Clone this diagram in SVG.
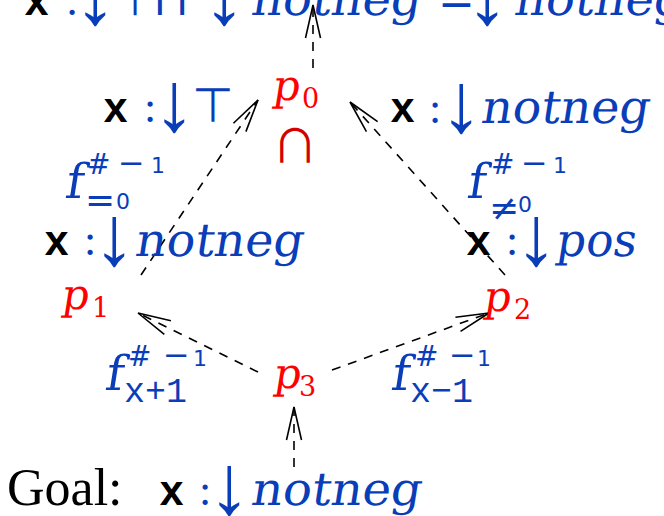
<svg xmlns="http://www.w3.org/2000/svg" width="664" height="516" viewBox="0 0 664 516">
<defs>
<style>
.bg{fill:#fff}
.m{font-family:"DejaVu Serif",serif;fill:#0a3db8}
.s{font-family:"DejaVu Sans",sans-serif;fill:#0a3db8}
.ar{font-family:"Liberation Serif",serif;fill:#0a3db8}
.tt{font-family:"Liberation Mono",monospace;font-weight:bold;fill:#000}
.ttb{font-family:"Liberation Mono",monospace;fill:#0a3db8}
.pn{font-family:"DejaVu Serif",serif;fill:#ff0000}
.pd{font-family:"DejaVu Serif",serif;fill:#ff0000}
.rm{font-family:"Liberation Serif",serif;fill:#000}
.cap{font-family:"Noto Sans CJK SC","DejaVu Sans",sans-serif;fill:#d40000}
.e{fill:none;stroke:#000;stroke-width:1.6;stroke-dasharray:9 8}
</style>
<marker id="ah" markerUnits="userSpaceOnUse" markerWidth="40" markerHeight="20" refX="0" refY="0" orient="auto" viewBox="-36 -10 40 20" overflow="visible">
<path d="M-33,-7.5 L0,0 L-33,7.5" fill="none" stroke="#000" stroke-width="1.6"/>
</marker>
</defs>
<rect class="bg" x="0" y="0" width="664" height="516"/>

<g id="connectors">
<line class="e" x1="313" y1="68" x2="313" y2="5" marker-end="url(#ah)"/>
<line class="e" x1="141" y1="275" x2="258" y2="100" marker-end="url(#ah)"/>
<line class="e" x1="505" y1="275" x2="350" y2="102" marker-end="url(#ah)"/>
<line class="e" x1="258" y1="372" x2="138" y2="313" marker-end="url(#ah)"/>
<line class="e" x1="332" y1="370" x2="489" y2="313" marker-end="url(#ah)"/>
<line class="e" x1="294" y1="467" x2="294" y2="407" marker-end="url(#ah)"/>
</g>

<g id="top-label">
<text class="tt" x="24" y="15" font-size="42">x</text>
<text class="ar" x="66" y="15" font-size="44">:</text>
<text class="ar" x="74" y="24" font-size="85">↓</text>
<text class="s" x="115" y="15" font-size="46">⊤</text>
<text class="s" x="153" y="15" font-size="46">⊓</text>
<text class="ar" x="203" y="24" font-size="85">↓</text>
<text class="m" transform="translate(250,15) skewX(-9)" font-size="46" textLength="170" lengthAdjust="spacingAndGlyphs">notneg</text>
<text class="s" x="438" y="15" font-size="44">=</text>
<text class="ar" x="466" y="24" font-size="85">↓</text>
<text class="m" transform="translate(513,15) skewX(-9)" font-size="46" textLength="170" lengthAdjust="spacingAndGlyphs">notneg</text>
</g>

<g id="p0">
<text class="pn" transform="translate(272,100) skewX(-9)" font-size="42">p</text>
<text class="pd" x="302" y="108" font-size="27">0</text>
<text class="cap" x="272" y="162" font-size="46">∩</text>
</g>

<g id="label-top-left">
<text class="tt" x="103" y="122" font-size="42">x</text>
<text class="ar" x="144" y="122" font-size="44">:</text>
<text class="ar" x="153" y="131" font-size="85">↓</text>
<text class="s" x="192" y="122" font-size="48">⊤</text>
</g>

<g id="label-top-right">
<text class="tt" x="390" y="122" font-size="42">x</text>
<text class="ar" x="429" y="123" font-size="44">:</text>
<text class="ar" x="440" y="132" font-size="85">↓</text>
<text class="m" transform="translate(480,123) skewX(-9)" font-size="46" textLength="168" lengthAdjust="spacingAndGlyphs">notneg</text>
</g>

<g id="f-left">
<text class="m" transform="translate(64,198) skewX(-9)" font-size="48">f</text>
<text class="s" x="87" y="174" font-size="28">#</text>
<text class="s" x="118" y="174" font-size="32">−</text>
<text class="s" x="151" y="173" font-size="22">1</text>
<text class="s" x="85" y="212" font-size="36">=</text>
<text class="s" x="116" y="209" font-size="22">0</text>
</g>

<g id="f-right">
<text class="m" transform="translate(466,198) skewX(-9)" font-size="48">f</text>
<text class="s" x="491" y="174" font-size="28">#</text>
<text class="s" x="521" y="174" font-size="32">−</text>
<text class="s" x="553" y="173" font-size="22">1</text>
<text class="s" x="489" y="220" font-size="36">≠</text>
<text class="s" x="518" y="212" font-size="22">0</text>
</g>

<g id="label-mid-left">
<text class="tt" x="44" y="255" font-size="42">x</text>
<text class="ar" x="84" y="255" font-size="44">:</text>
<text class="ar" x="93" y="265" font-size="85">↓</text>
<text class="m" transform="translate(134,256) skewX(-9)" font-size="46" textLength="168" lengthAdjust="spacingAndGlyphs">notneg</text>
</g>

<g id="label-mid-right">
<text class="tt" x="466" y="255" font-size="42">x</text>
<text class="ar" x="506" y="255" font-size="44">:</text>
<text class="ar" x="515" y="265" font-size="85">↓</text>
<text class="m" transform="translate(555,256) skewX(-9)" font-size="46" textLength="80" lengthAdjust="spacingAndGlyphs">pos</text>
</g>

<g id="p1">
<text class="pn" transform="translate(61,309) skewX(-9)" font-size="42">p</text>
<text class="pd" x="92" y="317" font-size="27">1</text>
</g>

<g id="p2">
<text class="pn" transform="translate(483,311) skewX(-9)" font-size="42">p</text>
<text class="pd" x="514" y="319" font-size="27">2</text>
</g>

<g id="p3">
<text class="pn" transform="translate(273,388) skewX(-9)" font-size="42">p</text>
<text class="pd" x="299" y="396" font-size="27">3</text>
</g>

<g id="f-bottom-left">
<text class="m" transform="translate(104,390) skewX(-9)" font-size="48">f</text>
<text class="s" x="128" y="366" font-size="28">#</text>
<text class="s" x="163" y="366" font-size="32">−</text>
<text class="s" x="193" y="366" font-size="22">1</text>
<text class="ttb" x="124" y="402" font-size="35">x+1</text>
</g>

<g id="f-bottom-right">
<text class="m" transform="translate(390,390) skewX(-9)" font-size="48">f</text>
<text class="s" x="415" y="366" font-size="28">#</text>
<text class="s" x="449" y="366" font-size="32">−</text>
<text class="s" x="477" y="366" font-size="22">1</text>
<text class="ttb" x="410" y="402" font-size="35">x−1</text>
</g>

<g id="goal">
<text class="rm" x="7" y="505" font-size="52">Goal:</text>
<text class="tt" x="159" y="505" font-size="42">x</text>
<text class="ar" x="199" y="505" font-size="44">:</text>
<text class="ar" x="208" y="514" font-size="85">↓</text>
<text class="m" transform="translate(250,505) skewX(-9)" font-size="46" textLength="170" lengthAdjust="spacingAndGlyphs">notneg</text>
</g>
</svg>
